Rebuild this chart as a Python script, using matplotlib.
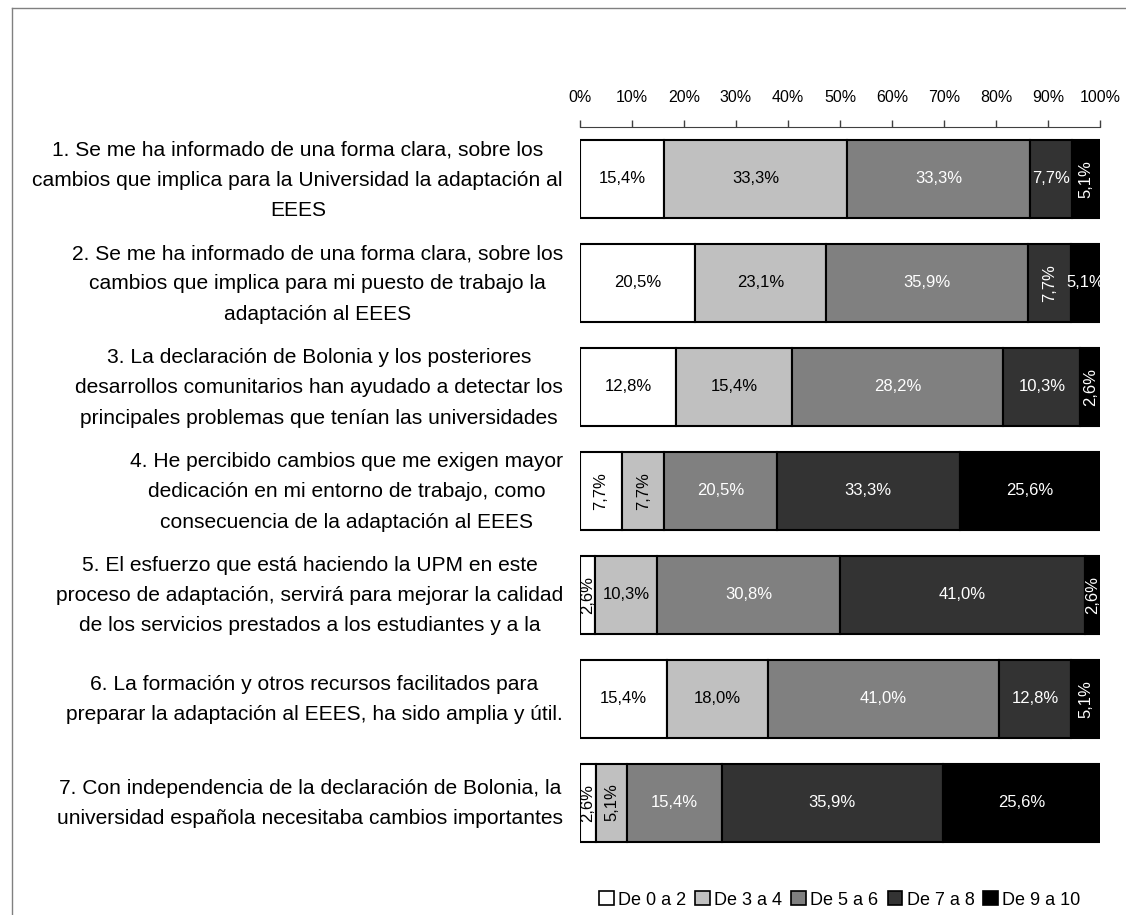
import numpy as np
import matplotlib
matplotlib.use('Agg')
import matplotlib.pyplot as plt
import matplotlib.transforms as mtransforms
from matplotlib.lines import Line2D

plt.rcParams['font.family'] = ['Liberation Sans', 'DejaVu Sans']

# preguntas (eje de categorías)
preguntas = [
    "1. Se me ha informado de una forma clara, sobre los\ncambios que implica para la Universidad la adaptación al\nEEES",
    "2. Se me ha informado de una forma clara, sobre los\ncambios que implica para mi puesto de trabajo la\nadaptación al EEES",
    "3. La declaración de Bolonia y los posteriores\ndesarrollos comunitarios han ayudado a detectar los\nprincipales problemas que tenían las universidades",
    "4. He percibido cambios que me exigen mayor\ndedicación en mi entorno de trabajo, como\nconsecuencia de la adaptación al EEES",
    "5. El esfuerzo que está haciendo la UPM en este\nproceso de adaptación, servirá para mejorar la calidad\nde los servicios prestados a los estudiantes y a la",
    "6. La formación y otros recursos facilitados para\npreparar la adaptación al EEES, ha sido amplia y útil.",
    "7. Con independencia de la declaración de Bolonia, la\nuniversidad española necesitaba cambios importantes",
]

rangos = ["De 0 a 2", "De 3 a 4", "De 5 a 6", "De 7 a 8", "De 9 a 10"]

# porcentajes por rango (columnas) para cada pregunta
de_0_a_2 = [15.4, 20.5, 12.8, 7.7, 2.6, 15.4, 2.6]
de_3_a_4 = [33.3, 23.1, 15.4, 7.7, 10.3, 18.0, 5.1]
de_5_a_6 = [33.3, 35.9, 28.2, 20.5, 30.8, 41.0, 15.4]
de_7_a_8 = [7.7, 7.7, 10.3, 33.3, 41.0, 12.8, 35.9]
de_9_a_10 = [5.1, 5.1, 2.6, 25.6, 2.6, 5.1, 25.6]

colores = ['#FFFFFF', '#C0C0C0', '#808080', '#333333', '#000000']
color_texto = ['black', 'black', 'white', 'white', 'white']
# etiquetas que van en vertical (fila, columna)
verticales = {(0, 4), (1, 3), (2, 4), (3, 0), (3, 1), (4, 0), (4, 4),
              (5, 4), (6, 0), (6, 1)}

datos = np.array([de_0_a_2, de_3_a_4, de_5_a_6, de_7_a_8, de_9_a_10]).T
totales = datos.sum(axis=1)
norm = datos / totales[:, None] * 100

fig = plt.figure(figsize=(11.26, 9.15), dpi=100)
ax = fig.add_axes([580 / 1126, 1 - 854.5 / 915, 520 / 1126, (854.5 - 127) / 915])

y = np.arange(len(preguntas))
izq = np.zeros(len(preguntas))
for j in range(len(rangos)):
    ax.barh(y, norm[:, j], left=izq, height=0.75, color=colores[j],
            edgecolor='black', linewidth=1.5, label=rangos[j])
    for i in range(len(preguntas)):
        txt = f"{datos[i, j]:.1f}%".replace('.', ',')
        rot = 90 if (i, j) in verticales else 0
        ax.text(izq[i] + norm[i, j] / 2, y[i], txt, ha='center', va='center',
                color=color_texto[j], fontsize=12, rotation=rot, clip_on=False)
    izq += norm[:, j]

ax.set_xlim(0, 100)
ax.set_ylim(len(preguntas) - 0.5, -0.5)
ax.xaxis.tick_top()
ax.set_xticks(np.arange(0, 101, 10))
ax.set_xticklabels([f"{v}%" for v in range(0, 101, 10)], fontsize=11.5)
ax.tick_params(axis='x', length=5, width=1, color='#404040', pad=11)

# etiquetas de las preguntas (como texto para controlar el interlineado)
ax.set_yticks([])
trans = mtransforms.blended_transform_factory(ax.transAxes, ax.transData)
for i, p in enumerate(preguntas):
    ax.text(-17 / 520, y[i] + 0.01, p, transform=trans, ha='right', va='center',
            multialignment='center', fontsize=15.1, linespacing=1.75)

for s in ['left', 'right', 'bottom']:
    ax.spines[s].set_visible(False)
ax.spines['top'].set_color('#404040')

handles = [plt.Rectangle((0, 0), 1, 1, facecolor=c, edgecolor='black', linewidth=1.2)
           for c in colores]
fig.legend(handles, rangos, loc='center', bbox_to_anchor=(840 / 1126, 1 - 900 / 915),
           ncol=5, frameon=False, fontsize=13, handlelength=0.8, handleheight=0.8,
           handletextpad=0.25, columnspacing=0.5)

# marco de la figura
fig.add_artist(Line2D([12 / 1126, 12 / 1126], [0, 1 - 8 / 915], color='#808080', lw=1))
fig.add_artist(Line2D([12 / 1126, 1], [1 - 8 / 915, 1 - 8 / 915], color='#808080', lw=1))

fig.savefig('out.png', dpi=100)
